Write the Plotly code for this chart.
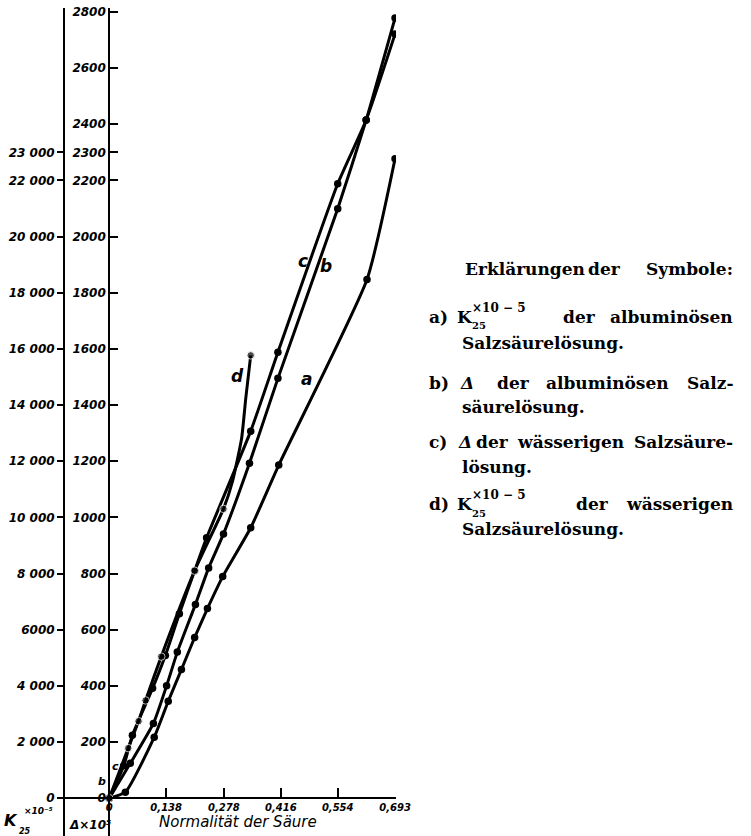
import plotly.graph_objects as go

# ---------------- data ----------------
x_tickvals = [0, 0.138, 0.278, 0.416, 0.554, 0.693]
x_ticktext = ["0", "0,138", "0,278", "0,416", "0,554", "0,693"]

delta_tickvals = [0, 200, 400, 600, 800, 1000, 1200, 1400, 1600, 1800, 2000, 2200, 2300, 2400, 2600, 2800]
delta_ticktext = ["0", "200", "400", "600", "800", "1000", "1200", "1400", "1600", "1800",
                  "2000", "2200", "2300", "2400", "2600", "2800"]

k_tickvals = [0, 2000, 4000, 6000, 8000, 10000, 12000, 14000, 16000, 18000, 20000, 22000, 23000]
k_ticktext = ["0", "2 000", "4 000", "6000", "8 000", "10 000", "12 000", "14 000", "16 000",
              "18 000", "20 000", "22 000", "23 000"]

# a) K25 x10^-5 of albuminous HCl solution (left axis)
a_x = [0, 0.039, 0.109, 0.143, 0.175, 0.207, 0.238, 0.275, 0.343, 0.411, 0.625, 0.693]
a_k = [0, 210, 2170, 3450, 4580, 5720, 6750, 7890, 9630, 11860, 18470, 22770]

# b) Delta of albuminous HCl solution (right axis)
b_x = [0, 0.051, 0.107, 0.139, 0.165, 0.209, 0.241, 0.277, 0.340, 0.409, 0.554, 0.623, 0.693]
b_delta = [0, 124, 266, 400, 520, 690, 820, 941, 1193, 1495, 2099, 2415, 2778]

# c) Delta of aqueous HCl solution (right axis)
c_x = [0, 0.035, 0.056, 0.105, 0.136, 0.170, 0.207, 0.236, 0.343, 0.409, 0.554, 0.623, 0.693]
c_delta = [0, 115, 224, 391, 508, 657, 810, 927, 1307, 1588, 2188, 2415, 2721]

# d) K25 x10^-5 of aqueous HCl solution (left axis)
d_x = [0, 0.046, 0.071, 0.088, 0.126, 0.207, 0.277, 0.299, 0.321, 0.331, 0.343]
d_k = [0, 1780, 2740, 3480, 5040, 8100, 10300, 11290, 12820, 14240, 15770]
d_unmarked = [7, 8, 9]  # points of the drawn curve that carry no dot

# ---------------- geometry ----------------
W, H = 751, 836
SX = 0.9775          # horizontal shrink observed in the rendered page
X0_PX, PX_PER_X = 109, 411.26
Y0_PX, PX_PER_D = 798, 0.2818
X_LEFT_PX, X_RIGHT_PX = 64, 395
Y_TOP_PX = 5

x_range = [(X_LEFT_PX - X0_PX) / PX_PER_X, (X_RIGHT_PX - X0_PX) / PX_PER_X]
y_lo = -(H - Y0_PX) / PX_PER_D
y_hi = y_lo + (H - Y_TOP_PX) / PX_PER_D

def px(xp):
    return min(xp / (W * SX), 0.999)

def py(yp):
    return 1 - yp / H

# legend block squeezed to the reachable width
LEG_L, LEG_R_REF, LEG_R = 427, 749, 732

def lx(t):
    return LEG_L + (t - LEG_L) * (LEG_R - LEG_L) / (LEG_R_REF - LEG_L)

BLACK = "black"
tickfont = dict(family="DejaVu Sans", size=12, style="italic", weight="bold", color=BLACK)

fig = go.Figure()

line_style = dict(color=BLACK, width=3, shape="spline", smoothing=0.5)
mk = dict(color=BLACK, size=7.5)

fig.add_trace(go.Scatter(x=a_x, y=a_k, yaxis="y2", mode="lines+markers",
                         line=line_style, marker=mk, name="a"))
fig.add_trace(go.Scatter(x=b_x, y=b_delta, mode="lines+markers",
                         line=line_style, marker=mk, name="b"))
fig.add_trace(go.Scatter(x=c_x, y=c_delta, mode="lines+markers",
                         line=line_style, marker=mk, name="c"))
d_sizes = [0 if i in d_unmarked else 7.5 for i in range(len(d_x))]
fig.add_trace(go.Scatter(x=d_x, y=d_k, yaxis="y2", mode="lines+markers",
                         line=line_style, marker=dict(color=BLACK, size=d_sizes), name="d"))

annotations = []

def txt(x, y, s, size=17, family="DejaVu Serif", weight="bold", style="normal",
        xanchor="left", yanchor="middle"):
    annotations.append(dict(x=px(x), y=py(y), xref="paper", yref="paper", text=s,
                            showarrow=False, xanchor=xanchor, yanchor=yanchor,
                            borderpad=0,
                            font=dict(family=family, size=size, weight=weight,
                                      style=style, color=BLACK)))

def leg(x, y, s, **kw):
    txt(lx(x), y, s, **kw)

# curve letters
hand = dict(family="DejaVu Sans", weight="bold", style="italic")
txt(302, 259, "c", size=17, **hand, xanchor="center")
txt(325, 264, "b", size=17, **hand, xanchor="center")
txt(237, 374, "d", size=17, **hand, xanchor="center")
txt(306, 377, "a", size=17, **hand, xanchor="center")
txt(115, 766, "c", size=11, **hand, xanchor="center")
txt(102, 781, "b", size=11, **hand, xanchor="center")
txt(125, 792, "a", size=9, **hand, xanchor="center")

# axis labels at the bottom
txt(237, 822, "Normalität der Säure", size=15, family="DejaVu Sans", weight="normal",
    style="italic", xanchor="center")
txt(3, 820, "K", size=16, **hand)
txt(23, 811, "×10⁻⁵", size=9, **hand)
txt(18, 831, "25", size=8, **hand)
txt(68, 825, "Δ×10⁵", size=12, **hand)

# explanation block
R = LEG_R_REF
leg(465, 267, "Erklärungen")
leg(594, 267, "der")
leg(R, 267, "Symbole:", xanchor="right")

leg(427, 315, "a)")
leg(456, 315, "K")
leg(472, 306, "×10 − 5", size=12)
leg(472, 324, "25", size=10)
leg(568, 315, "der")
leg(R, 315, "albuminösen", xanchor="right")
leg(462, 341, "Salzsäurelösung.")

leg(427, 381, "b)")
leg(460, 381, "Δ", style="italic")
leg(498, 381, "der")
leg(550, 381, "albuminösen")
leg(R, 381, "Salz-", xanchor="right")
leg(462, 405, "säurelösung.")

leg(427, 441, "c)")
leg(457, 441, "Δ", style="italic")
leg(476, 441, "der")
leg(520, 441, "wässerigen")
leg(R, 441, "Salzsäure-", xanchor="right")
leg(462, 466, "lösung.")

leg(427, 503, "d)")
leg(456, 503, "K")
leg(472, 494, "×10 − 5", size=12)
leg(472, 512, "25", size=10)
leg(582, 503, "der")
leg(R, 503, "wässerigen", xanchor="right")
leg(462, 528, "Salzsäurelösung.")

fig.update_layout(
    width=W, height=H, autosize=False,
    margin=dict(l=0, r=0, t=0, b=0),
    paper_bgcolor="white", plot_bgcolor="white",
    showlegend=False,
    xaxis=dict(domain=[px(X_LEFT_PX), px(X_RIGHT_PX)], range=x_range,
               anchor="free", position=(H - Y0_PX) / H,
               showgrid=False, zeroline=False, showline=True, linecolor=BLACK, linewidth=2.4,
               ticks="inside", ticklen=9, tickwidth=2, tickcolor=BLACK,
               tickvals=x_tickvals, ticktext=x_ticktext,
               tickfont=dict(family="DejaVu Sans", size=10, style="italic", weight="bold", color=BLACK)),
    yaxis=dict(domain=[0, py(Y_TOP_PX)], range=[y_lo, y_hi],
               anchor="free", position=px(X0_PX), side="left",
               showgrid=False, zeroline=False, showline=True, linecolor=BLACK, linewidth=2.2,
               ticks="inside", ticklen=8, tickwidth=2, tickcolor=BLACK,
               tickvals=delta_tickvals, ticktext=delta_ticktext, tickfont=tickfont),
    yaxis2=dict(overlaying="y", range=[10 * y_lo, 10 * y_hi],
                anchor="free", position=px(X_LEFT_PX), side="left",
                showgrid=False, zeroline=False, showline=True, linecolor=BLACK, linewidth=2.2,
                ticks="outside", ticklen=6, tickwidth=2, tickcolor=BLACK,
                tickvals=k_tickvals, ticktext=k_ticktext, tickfont=tickfont),
    annotations=annotations,
)

fix_page = (
    "document.documentElement.style.overflow='hidden';"
    "document.body.style.margin='0';"
    "document.body.style.overflow='hidden';"
)

fig.write_html(
    "out.html",
    config={"responsive": False, "displayModeBar": False},
    post_script=fix_page,
)
